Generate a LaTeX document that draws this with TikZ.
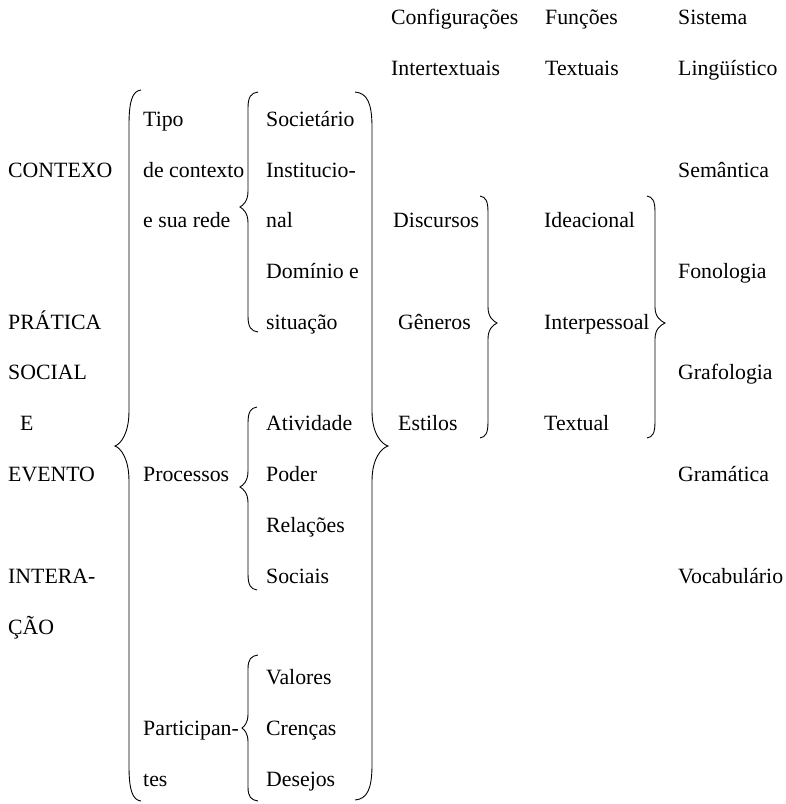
\documentclass[tikz,border=0pt]{standalone}
\usepackage{fontspec}
\setmainfont{Liberation Serif}
\usepackage{tikz}

% chave: ponta xe, vertical xv, bico xt, topo yt, meio ym, base yb, gancho h
\newcommand{\chave}[7]{%
  \draw[chave] (#1,#4) .. controls ({#2+0.3*(#1-#2)},{#4+1}) and (#2,{#4+0.3*#7}) .. (#2,{#4+#7})
    -- (#2,{#5-#7}) .. controls (#2,{#5-0.35*#7}) and ({#3+0.4*(#2-#3)},{#5-2}) .. (#3,#5)
    .. controls ({#3+0.4*(#2-#3)},{#5+2}) and (#2,{#5+0.35*#7}) .. (#2,{#5+#7})
    -- (#2,{#6-#7}) .. controls (#2,{#6-0.3*#7}) and ({#2+0.3*(#1-#2)},{#6-1}) .. (#1,#6);}

\begin{document}
\begin{tikzpicture}[x=1pt,y=-1pt,
    txt/.style={anchor=base west,inner sep=0pt,font=\fontsize{21.8}{26}\selectfont},
    chave/.style={line width=0.9pt}]

	\useasboundingbox (0,0) rectangle (786,804);

	% coluna da esquerda
	\node[txt] (contexo) at (8,177) {CONTEXO};
	\node[txt] (pratica) at (8,329) {PRÁTICA};
	\node[txt] (social) at (8,379) {SOCIAL};
	\node[txt] (e) at (20,430) {E};
	\node[txt] (evento) at (8,481) {EVENTO};
	\node[txt] (intera) at (8,583) {INTERA-};
	\node[txt] (cao) at (8,634) {ÇÃO};

	% tipo, processos, participantes
	\node[txt] (tipo) at (143,126) {Tipo};
	\node[txt] (decontexto) at (143,177) {de contexto};
	\node[txt] (suarede) at (143,227) {e sua rede};
	\node[txt] (processos) at (143,481) {Processos};
	\node[txt] (participan) at (143,735) {Participan-};
	\node[txt] (tes) at (143,786) {tes};

	\node[txt] (societario) at (266,126) {Societário};
	\node[txt] (institucio) at (266,177) {Institucio-};
	\node[txt] (nal) at (266,227) {nal};
	\node[txt] (dominio) at (266,278) {Domínio e};
	\node[txt] (situacao) at (266,329) {situação};
	\node[txt] (atividade) at (266,430) {Atividade};
	\node[txt] (poder) at (266,481) {Poder};
	\node[txt] (relacoes) at (266,532) {Relações};
	\node[txt] (sociais) at (266,583) {Sociais};
	\node[txt] (valores) at (266,684) {Valores};
	\node[txt] (crencas) at (266,735) {Crenças};
	\node[txt] (desejos) at (266,786) {Desejos};

	% configuracoes intertextuais
	\node[txt] (config) at (391,24) {Configurações};
	\node[txt] (intertext) at (391,75) {Intertextuais};
	\node[txt] (discursos) at (393,227) {Discursos};
	\node[txt] (generos) at (398,329) {Gêneros};
	\node[txt] (estilos) at (398,430) {Estilos};

	% funcoes textuais
	\node[txt] (funcoes) at (545,24) {Funções};
	\node[txt] (textuais) at (545,75) {Textuais};
	\node[txt] (ideacional) at (544,227) {Ideacional};
	\node[txt] (interpessoal) at (544,329) {Interpessoal};
	\node[txt] (textual) at (544,430) {Textual};

	% sistema linguistico
	\node[txt] (sistema) at (678,24) {Sistema};
	\node[txt] (linguistico) at (678,75) {Lingüístico};
	\node[txt] (semantica) at (678,177) {Semântica};
	\node[txt] (fonologia) at (678,278) {Fonologia};
	\node[txt] (grafologia) at (678,379) {Grafologia};
	\node[txt] (gramatica) at (678,481) {Gramática};
	\node[txt] (vocabulario) at (678,583) {Vocabulário};

	% chaves grandes
	\chave{141}{129}{115}{90}{446}{801}{35}
	\chave{355}{372}{388}{92}{446}{800}{35}

	% chaves pequenas
	\chave{258}{248}{240}{92}{207}{332}{16}
	\chave{257}{248}{240}{407}{487}{590}{16}
	\chave{258}{248}{242}{655}{728}{801}{14}
	\chave{480}{488}{497}{196}{323}{438}{16}
	\chave{647}{655}{665}{196}{323}{438}{16}

\end{tikzpicture}
\end{document}
